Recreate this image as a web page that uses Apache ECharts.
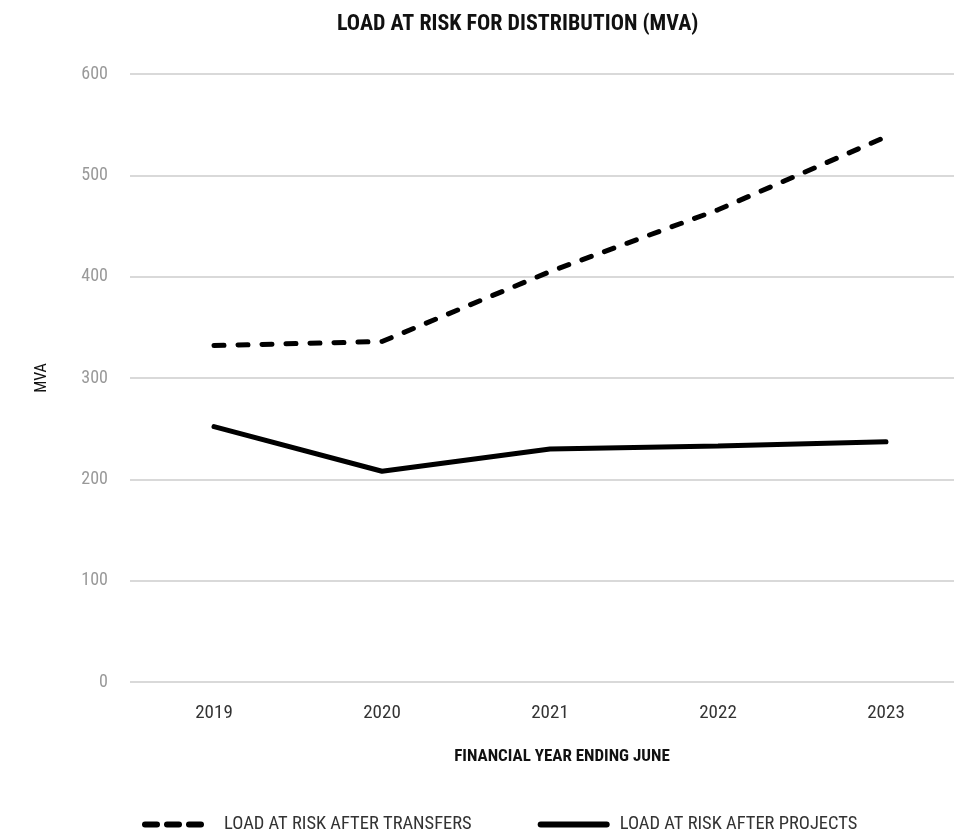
<!DOCTYPE html>
<html>
<head>
<meta charset="utf-8">
<script src="https://cdn.jsdelivr.net/npm/echarts@6/dist/echarts.min.js"></script>
<style>
    html, body { margin: 0; padding: 0; background: #fff; }
    #chart { width: 954px; height: 834px; }
</style>
</head>
<body>
<div id="chart"></div>
<script>
    var years = ['2019', '2020', '2021', '2022', '2023'];
    var afterTransfers = [332, 336, 405, 466, 538];
    var afterProjects = [252, 208, 230, 233, 237];
    var yTicks = [0, 100, 200, 300, 400, 500, 600];

    var font = '"Liberation Sans Narrow", "Roboto Condensed", Roboto, sans-serif';

    var chart = echarts.init(document.getElementById('chart'));
    chart.setOption({
        animation: false,
        title: {
            text: 'LOAD AT RISK FOR DISTRIBUTION (MVA)',
            left: 332,
            top: 8,
            textStyle: { fontFamily: font, fontSize: 22, fontWeight: 'bold', color: '#111' }
        },
        legend: {
            top: 810,
            left: 137,
            itemWidth: 66,
            itemHeight: 10,
            itemGap: 66,
            itemStyle: { opacity: 0 },
            textStyle: { fontFamily: font, fontSize: 18.5, color: '#333', padding: [0, 0, 0, 8] },
            data: [
                { name: 'LOAD AT RISK AFTER TRANSFERS', lineStyle: { width: 6, type: [12, 10], cap: 'round', color: '#000' } },
                { name: 'LOAD AT RISK AFTER PROJECTS', lineStyle: { width: 6, type: 'solid', cap: 'round', color: '#000' } }
            ]
        },
        grid: {
            left: 130,
            width: 840,
            top: 74,
            bottom: 152,
            outerBoundsMode: 'none'
        },
        xAxis: {
            type: 'category',
            data: years,
            axisLine: { show: false },
            axisTick: { show: false },
            axisLabel: { margin: 22, fontFamily: font, fontSize: 19, color: '#333' },
            name: 'FINANCIAL YEAR ENDING JUNE',
            nameLocation: 'middle',
            nameGap: 66,
            nameTextStyle: { fontFamily: font, fontSize: 17, fontWeight: 'bold', color: '#111', padding: [0, 0, 0, 24] }
        },
        yAxis: {
            type: 'value',
            min: yTicks[0],
            max: yTicks[yTicks.length - 1],
            interval: 100,
            axisLabel: { margin: 22, fontFamily: font, fontSize: 18, color: '#999' },
            splitLine: { lineStyle: { color: '#d9d9d9', width: 2 } },
            name: 'MVA',
            nameLocation: 'middle',
            nameGap: 80,
            nameTextStyle: { fontFamily: font, fontSize: 16, color: '#111' }
        },
        series: [
            {
                name: 'LOAD AT RISK AFTER TRANSFERS',
                type: 'line',
                data: afterTransfers,
                symbol: 'none',
                lineStyle: { color: '#000', width: 5, type: [10, 14], cap: 'round' },
                itemStyle: { color: '#000' }
            },
            {
                name: 'LOAD AT RISK AFTER PROJECTS',
                type: 'line',
                data: afterProjects,
                symbol: 'none',
                lineStyle: { color: '#000', width: 5, cap: 'round' },
                itemStyle: { color: '#000' }
            }
        ]
    });
</script>
</body>
</html>
